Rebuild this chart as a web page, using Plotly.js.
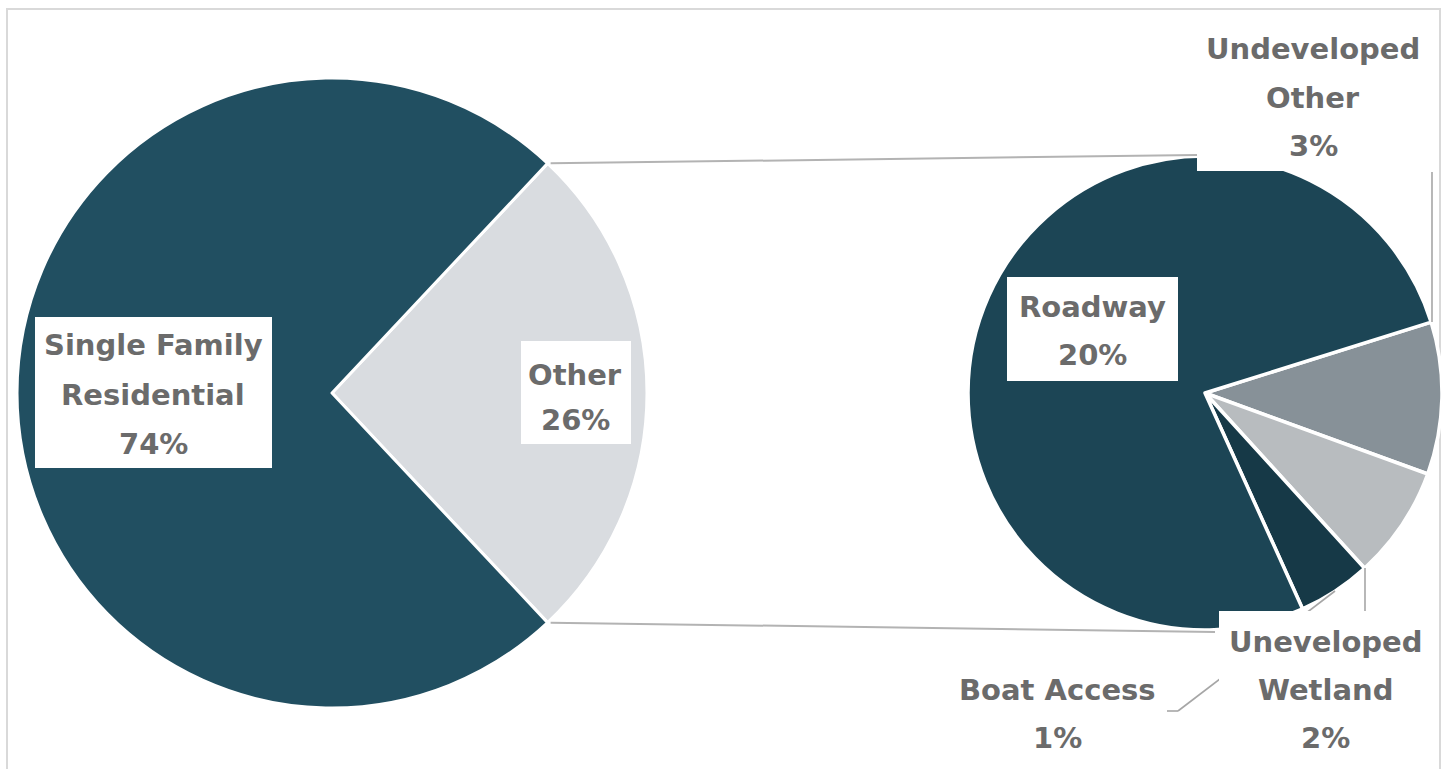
<!DOCTYPE html>
<html><head><meta charset="utf-8">
<script src="https://cdn.plot.ly/plotly-3.0.1.min.js"></script>
<style>html,body{margin:0;padding:0;background:#fff}#chart{width:1448px;height:769px}</style>
</head><body><div id="chart"></div>
<script>
const W = 1448, H = 769;

// ---- data ----
const mainLabels = ["Other", "Single Family Residential"];
const mainValues = [26, 74];
const mainColors = ["#d9dce0", "#214f61"];
const mainLines = [["Other"], ["Single Family", "Residential"]];

const subLabels = ["Undeveloped Other", "Uneveloped Wetland", "Boat Access", "Roadway"];
const subValues = [2.7, 2.0, 1.3, 20.0];   // percent of whole (sum = Other)
const subColors = ["#879198", "#b8bcbf", "#163947", "#1c4555"];
const subLines = [["Undeveloped", "Other"], ["Uneveloped", "Wetland"], ["Boat Access"], ["Roadway"]];

// ---- layout helpers (pixel -> paper) ----
const X = p => p / W, Y = p => 1 - p / H;
const mainDom = { x: [17, 647], y: [78, 708] };
const subDom = { x: [968, 1442], y: [156, 630] };
const mainTotal = mainValues.reduce((a, b) => a + b, 0);
const mainRot = 90 - (mainValues[0] / mainTotal) * 180;
const subRot = 72.6;

const traces = [
  {
    type: "pie", labels: mainLabels, values: mainValues, sort: false, direction: "clockwise",
    rotation: mainRot, textinfo: "none", hoverinfo: "label+percent",
    marker: { colors: mainColors, line: { color: "#ffffff", width: 3 } },
    domain: { x: [X(mainDom.x[0]), X(mainDom.x[1])], y: [Y(mainDom.y[1]), Y(mainDom.y[0])] },
    showlegend: false
  },
  {
    type: "pie", labels: subLabels, values: subValues, sort: false, direction: "clockwise",
    rotation: subRot, textinfo: "none", hoverinfo: "label+value",
    marker: { colors: subColors, line: { color: "#ffffff", width: 3.5 } },
    domain: { x: [X(subDom.x[0]), X(subDom.x[1])], y: [Y(subDom.y[1]), Y(subDom.y[0])] },
    showlegend: false
  }
];

// connector geometry derived from the pies
const mcx = (mainDom.x[0] + mainDom.x[1]) / 2, mcy = (mainDom.y[0] + mainDom.y[1]) / 2;
const mr = Math.min(mainDom.x[1] - mainDom.x[0], mainDom.y[1] - mainDom.y[0]) / 2;
const scx = (subDom.x[0] + subDom.x[1]) / 2, scy = (subDom.y[0] + subDom.y[1]) / 2;
const sr = Math.min(subDom.x[1] - subDom.x[0], subDom.y[1] - subDom.y[0]) / 2;
const a0 = mainRot * Math.PI / 180;
const a1 = (mainRot + mainValues[0] / mainTotal * 360) * Math.PI / 180;
const pTop = [mcx + mr * Math.sin(a0), mcy - mr * Math.cos(a0)];
const pBot = [mcx + mr * Math.sin(a1), mcy - mr * Math.cos(a1)];

const lineStyle = { color: "#b3b3b3", width: 2 };
const leadStyle = { color: "#a6a6a6", width: 1.6 };
function seg(x0, y0, x1, y1, st) {
  return { type: "line", xref: "paper", yref: "paper", x0: X(x0), y0: Y(y0), x1: X(x1), y1: Y(y1), line: st, layer: "above" };
}
function box(x0, y0, x1, y1) {
  return { type: "rect", xref: "paper", yref: "paper", x0: X(x0), y0: Y(y0), x1: X(x1), y1: Y(y1),
    fillcolor: "#ffffff", line: { width: 0 }, layer: "above" };
}

const shapes = [
  { type: "rect", xref: "paper", yref: "paper", x0: X(7), y0: Y(9), x1: X(1440), y1: Y(780),
    line: { color: "#d9d9d9", width: 2 }, fillcolor: "rgba(0,0,0,0)", layer: "below" },
  seg(pTop[0] + 3, pTop[1], scx - 8, scy - sr - 1, lineStyle),
  seg(pBot[0] + 3, pBot[1], scx + 10, scy + sr + 2, lineStyle),
  // leader lines
  seg(1167, 711, 1178, 711, leadStyle),
  seg(1178, 711, 1335, 591, leadStyle),
  seg(1365, 568, 1365, 612, leadStyle),
  seg(1432, 172, 1432, 322, leadStyle),
  // label boxes
  box(35, 317, 272, 468),
  box(521, 341, 631, 444),
  box(1007, 277, 1178, 381),
  box(1197, 25, 1432, 171),
  box(1219, 611, 1432, 764)
];

// label text placement (pixel centres of each line)
const font = { family: "DejaVu Sans, sans-serif", size: 29, color: "#6b6b6b" };
const mainPos = [{ x: 575, ys: [374, 419] }, { x: 153, ys: [344, 393.5, 443] }];
const subPos = [
  { x: 1313, ys: [48, 96.5, 145] },
  { x: 1325, ys: [641, 688.5, 736.5] },
  { x: 1057, ys: [689, 736.5] },
  { x: 1092, ys: [306, 353.5] }
];
const annotations = [];
function addLabel(lines, pct, pos) {
  const all = lines.concat([pct + "%"]);
  all.forEach((t, i) => annotations.push({
    xref: "paper", yref: "paper", x: X(pos.x), y: Y(pos.ys[i] + 1), text: "<b>" + t + "</b>",
    showarrow: false, xanchor: "center", yanchor: "middle", font: font
  }));
}
mainLines.forEach((l, i) => addLabel(l, Math.round(mainValues[i] / mainTotal * 100), mainPos[i]));
subLines.forEach((l, i) => addLabel(l, Math.round(subValues[i]), subPos[i]));

const layout = {
  width: W, height: H, margin: { l: 0, r: 0, t: 0, b: 0 },
  paper_bgcolor: "#ffffff", plot_bgcolor: "#ffffff",
  shapes: shapes, annotations: annotations, showlegend: false
};
Plotly.newPlot("chart", traces, layout, { displayModeBar: false, staticPlot: true });
</script></body></html>
